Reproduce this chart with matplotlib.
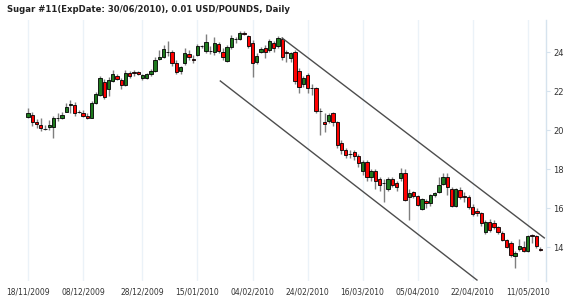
import numpy as np
import matplotlib.pyplot as plt

# daily OHLC, one row per trading day
opens = [20.68, 20.78, 20.43, 20.27, 20.07, 20.17, 20.17, 20.63, 20.63, 20.94,
         21.30, 21.30, 20.95, 20.90, 20.75, 20.65, 21.42, 21.81, 22.49, 22.10,
         22.54, 22.78, 22.58, 22.32, 22.95, 22.96, 22.99, 22.68, 22.68, 22.87,
         23.06, 23.64, 23.76, 24.02, 24.00, 23.47, 23.04, 23.44, 23.90, 23.65,
         23.85, 24.33, 24.07, 24.08, 24.03, 24.43, 24.03, 23.57, 24.29, 24.69,
         24.68, 25.00, 24.84, 24.46, 23.52, 24.03, 24.22, 24.12, 24.49, 24.32,
         24.68, 23.99, 23.70, 24.03, 23.06, 22.40, 22.84, 22.17, 22.15, 20.99,
         20.44, 20.50, 20.87, 20.44, 19.35, 19.00, 18.80, 18.90, 18.70, 17.90,
         18.40, 17.60, 17.90, 17.50, 17.30, 17.00, 17.50, 17.30, 17.54, 17.80,
         16.60, 16.84, 16.65, 15.96, 16.39, 16.29, 16.68, 16.85, 17.25, 17.62,
         17.00, 16.12, 16.94, 16.62, 16.60, 16.08, 15.88, 15.78, 14.80, 15.30,
         15.27, 15.04, 14.75, 14.37, 14.23, 13.55, 13.90, 14.03, 13.83, 14.62,
         14.60, 13.93]
closes = [20.89, 20.43, 20.32, 20.12, 20.05, 20.27, 20.63, 20.61, 20.78, 21.19,
          21.32, 20.89, 20.93, 20.75, 20.65, 21.42, 21.86, 22.68, 21.72, 22.58,
          22.89, 22.63, 22.32, 22.92, 22.78, 22.94, 22.89, 22.82, 22.87, 23.06,
          23.60, 23.77, 24.17, 24.00, 23.45, 23.00, 23.26, 23.95, 23.74, 23.63,
          24.32, 24.31, 24.51, 24.06, 24.49, 24.08, 23.74, 24.25, 24.72, 24.67,
          24.97, 24.94, 24.32, 23.44, 23.81, 24.17, 24.00, 24.58, 24.20, 24.72,
          23.77, 23.97, 23.95, 22.54, 22.24, 22.67, 22.15, 22.15, 20.99, 20.97,
          20.33, 20.79, 20.44, 19.25, 18.99, 18.75, 18.78, 18.70, 18.30, 18.40,
          17.60, 17.90, 17.40, 17.20, 17.28, 17.50, 17.20, 17.10, 17.80, 16.43,
          16.80, 16.65, 16.17, 16.48, 16.26, 16.68, 16.80, 17.20, 17.62, 17.08,
          16.12, 16.97, 16.60, 16.59, 16.08, 15.71, 15.78, 15.27, 15.31, 14.90,
          15.04, 14.80, 14.37, 14.03, 13.60, 13.70, 14.06, 13.83, 14.60, 14.60,
          14.07, 13.86]
highs = [21.14, 20.94, 20.58, 20.63, 20.27, 20.53, 20.73, 20.90, 20.94, 21.40,
         21.55, 21.45, 21.04, 21.04, 20.89, 21.50, 21.96, 22.78, 22.63, 22.73,
         23.09, 22.89, 22.68, 23.09, 23.04, 23.09, 23.06, 22.90, 22.95, 23.12,
         23.75, 24.12, 24.37, 24.60, 24.10, 23.60, 23.30, 24.20, 24.12, 23.86,
         24.45, 24.40, 24.94, 24.30, 24.78, 24.53, 24.22, 24.37, 24.89, 24.78,
         25.09, 25.09, 24.90, 24.63, 23.95, 24.27, 24.37, 24.68, 24.58, 24.85,
         24.78, 24.12, 24.00, 24.12, 23.20, 22.80, 22.95, 22.40, 22.20, 21.14,
         20.89, 20.90, 20.93, 20.50, 19.50, 19.10, 19.00, 19.00, 18.80, 18.50,
         18.50, 18.00, 18.00, 17.60, 17.50, 17.60, 17.60, 17.40, 18.05, 18.00,
         17.00, 16.90, 16.70, 16.55, 16.50, 16.75, 16.85, 17.60, 17.80, 17.80,
         17.10, 17.05, 17.10, 16.84, 16.70, 16.20, 16.00, 15.80, 15.40, 15.45,
         15.40, 15.10, 14.85, 14.45, 14.30, 13.80, 14.45, 14.30, 14.65, 14.70,
         14.65, 14.00]
lows = [20.63, 20.22, 20.12, 19.96, 20.00, 20.02, 19.60, 20.50, 20.58, 20.94,
        20.89, 20.73, 20.89, 20.68, 20.58, 20.63, 21.35, 21.76, 21.60, 21.76,
        22.48, 22.58, 22.12, 22.27, 22.68, 22.78, 22.84, 22.60, 22.63, 22.80,
        23.00, 23.60, 23.70, 23.80, 23.30, 22.90, 22.90, 23.35, 23.60, 23.45,
        23.80, 24.20, 23.96, 23.90, 23.86, 23.96, 23.60, 23.50, 24.17, 24.50,
        24.63, 24.89, 24.20, 22.73, 23.40, 23.96, 23.70, 24.03, 24.03, 24.20,
        23.60, 23.50, 23.50, 22.40, 21.90, 22.20, 21.90, 21.81, 20.90, 19.76,
        19.90, 20.40, 20.20, 19.10, 18.80, 18.60, 18.60, 18.50, 18.10, 17.70,
        17.40, 17.40, 17.00, 16.90, 16.30, 16.90, 17.10, 16.90, 17.40, 16.35,
        15.40, 16.55, 16.10, 15.90, 16.00, 16.10, 16.60, 16.80, 17.20, 16.68,
        16.05, 16.05, 16.50, 16.33, 15.95, 15.60, 15.60, 15.10, 14.70, 14.80,
        14.95, 14.70, 14.30, 13.95, 13.50, 12.93, 13.80, 13.75, 13.75, 14.20,
        13.95, 13.80]

date_labels = ['18/11/2009', '08/12/2009', '28/12/2009', '15/01/2010', '04/02/2010',
               '24/02/2010', '16/03/2010', '05/04/2010', '22/04/2010', '11/05/2010']
label_days = [0, 13, 27, 40, 53, 66, 79, 92, 105, 118]

# trend channel drawn on the chart: (day, price) end points
upper_channel = ([60, 121.9], [24.73, 14.48])
lower_channel = ([45.4, 106.0], [22.53, 12.32])

title = 'Sugar #11(ExpDate: 30/06/2010), 0.01 USD/POUNDS, Daily'

o = np.array(opens)
c = np.array(closes)
h = np.array(highs)
l = np.array(lows)
x = np.arange(len(o))

fig = plt.figure(figsize=(5.7, 2.98), dpi=100)
ax = fig.add_axes([0.0351, 0.057, 0.9228, 0.876])

grid_col = '#ebf2f8'
for d in label_days:
    ax.axvline(d, color=grid_col, lw=1, zorder=0)

# wicks
ax.vlines(x, l, h, color='#7f7f7f', lw=1, zorder=1)

# bodies
up = c >= o
bottom = np.minimum(o, c)
height = np.maximum(np.abs(c - o), 0.03)
colors = np.where(up, '#1e7a1e', '#ff0000')
ax.bar(x, height, bottom=bottom, width=0.78, color=colors,
       edgecolor='black', linewidth=0.6, zorder=2)

# channel lines
ax.plot(upper_channel[0], upper_channel[1], color='#4d4d4d', lw=1, zorder=3)
ax.plot(lower_channel[0], lower_channel[1], color='#4d4d4d', lw=1, zorder=3)

ax.set_xlim(-1.9, 122.3)
ax.set_ylim(12.27, 25.66)

ax.set_xticks(label_days)
ax.set_xticklabels(date_labels, fontsize=5.5, color='#333333')
ax.tick_params(axis='x', length=0, pad=5)

ax.yaxis.tick_right()
ax.set_yticks([14, 16, 18, 20, 22, 24])
ax.tick_params(axis='y', length=3, width=0.8, color='#d6e3ee',
               labelsize=6, labelcolor='#333333', pad=2)

for s in ['top', 'left', 'bottom']:
    ax.spines[s].set_visible(False)
ax.spines['right'].set_color('#d6e3ee')
ax.spines['right'].set_linewidth(1)

fig.text(7 / 570, 1 - 9 / 298, title, fontsize=6.1, fontweight='bold',
         color='#222222', va='center', ha='left')

fig.savefig('out.png', dpi=100)
